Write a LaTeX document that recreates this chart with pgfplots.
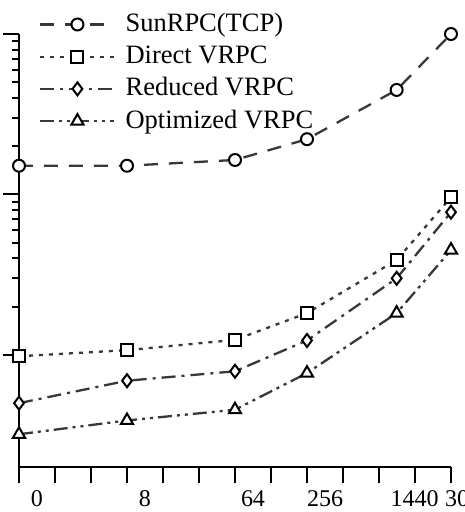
\documentclass[border=0pt]{standalone}
\usepackage{fontspec}
\setmainfont{Liberation Serif}
\usepackage{pgfplots}
\usepackage{pgfplotstable}
\pgfplotsset{compat=1.18}

% x positions follow a log2 spacing of the message sizes
\pgfplotstableread{
x      sun    direct  reduced  optimized
0      15.1   0.98    0.50     0.32
3      15.1   1.07    0.69     0.39
6      16.4   1.24    0.79     0.455
8      22.1   1.82    1.23     0.77
10.49  44.8   3.90    3.00     1.82
12     100    9.6     7.75     4.50
}\rpcdata

\begin{document}
\begin{tikzpicture}
\begin{axis}[
  at={(0,0)}, anchor=south west,
  scale only axis, width=432pt, height=433pt,
  xmin=0, xmax=12, ymin=0.2, ymax=100, ymode=log,
  axis lines=left,
  axis line style={-, line width=2pt, black},
  clip=false,
  tick align=outside,
  major tick length=16pt, minor tick length=7pt,
  every tick/.style={black, line width=2pt},
  xtick={0,...,12}, xticklabels={},
  extra x ticks={0,3,6,8,10.49,12},
  extra x tick labels={0,8,64,256,1440,3000},
  extra x tick style={major tick length=0pt,
    xticklabel style={anchor=base, xshift=18pt, yshift=-39.7pt,
      font=\fontsize{24}{28}\selectfont}},
  ytick={1,10,100}, yticklabels={},
  legend style={at={(0.047,1.052)}, anchor=north west,
    draw=none, fill=none, inner sep=0pt, outer sep=0pt,
    row sep=6.2pt, font=\fontsize{26.5}{30}\selectfont,
    nodes={inner sep=0pt, text height=20pt, text depth=6pt},
    /tikz/every odd column/.style={column sep=10pt}},
  legend cell align=left,
  legend image code/.code={
    \draw[mark repeat=2, mark phase=2, #1]
      plot coordinates {(0pt,0pt) (37pt,0pt) (74pt,0pt)};},
]
\addplot[draw=black!78, line width=2.3pt, dash pattern=on 14pt off 11pt,
  mark=*, mark size=6pt,
  mark options={solid, draw=black, fill=white, line width=2pt}]
  table[x=x, y=sun] {\rpcdata};
\addlegendentry{SunRPC(TCP)}
\addplot[draw=black!78, line width=2.3pt, dash pattern=on 4pt off 6pt,
  mark=square*, mark size=6pt,
  mark options={solid, draw=black, fill=white, line width=2pt}]
  table[x=x, y=direct] {\rpcdata};
\addlegendentry{Direct VRPC}
\addplot[draw=black!78, line width=2.3pt,
  dash pattern=on 14pt off 6pt on 3pt off 6pt,
  mark=diamond*, mark size=6.5pt,
  mark options={solid, draw=black, fill=white, line width=2pt}]
  table[x=x, y=reduced] {\rpcdata};
\addlegendentry{Reduced VRPC}
\addplot[draw=black!78, line width=2.3pt,
  dash pattern=on 14pt off 5pt on 3pt off 5pt on 3pt off 5pt,
  mark=triangle*, mark size=7pt,
  mark options={solid, draw=black, fill=white, line width=2pt}]
  table[x=x, y=optimized] {\rpcdata};
\addlegendentry{Optimized VRPC}
\end{axis}
\pgfresetboundingbox
\path[use as bounding box] (-19pt,-45pt) rectangle (446pt,467pt);
\end{tikzpicture}
\end{document}
